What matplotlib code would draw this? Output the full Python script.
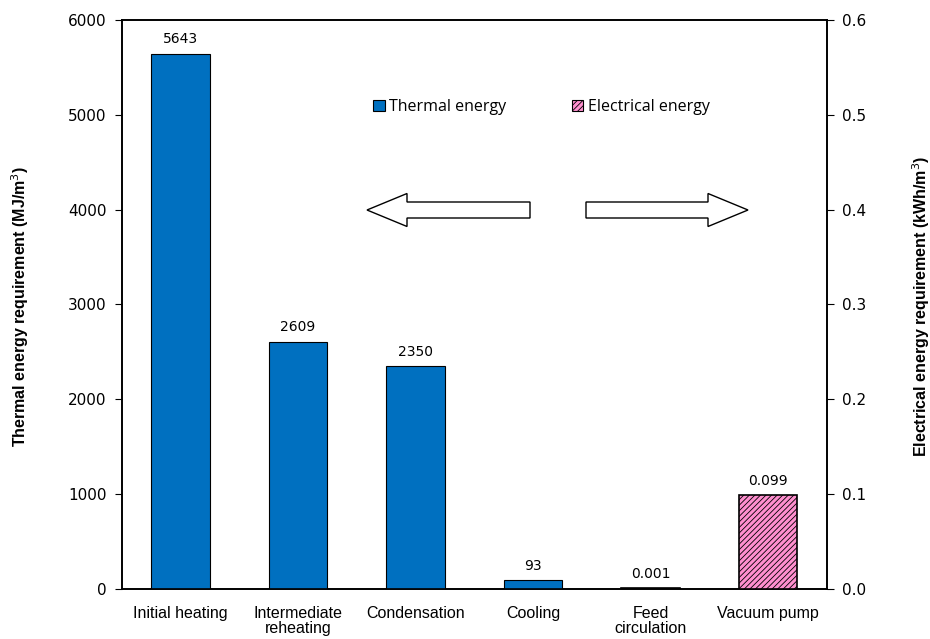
import numpy as np
import matplotlib
matplotlib.use("Agg")
import matplotlib.pyplot as plt
from matplotlib.patches import FancyArrow, Patch

categories = ["Initial heating", "Intermediate\nreheating", "Condensation",
              "Cooling", "Feed\ncirculation", "Vacuum pump"]
thermal = [5643, 2609, 2350, 93]          # MJ/m3, first four stages
electrical = [0.001, 0.099]               # kWh/m3, last two stages
thermal_labels = ["5643", "2609", "2350", "93"]
electrical_labels = ["0.001", "0.099"]

blue = "#0070c0"
pink = "#ff8fcf"

plt.rcParams["hatch.linewidth"] = 0.6

fig = plt.figure(figsize=(9.3, 6.39), dpi=100)
ax = fig.add_axes([0.131, 0.078, 0.758, 0.891])
ax2 = ax.twinx()

x = np.arange(len(categories))
xt = x[:len(thermal)]
xe = x[len(thermal):]

ax.bar(xt, thermal, width=0.5, color=blue, edgecolor="black", linewidth=0.8, zorder=3)
ax2.bar(xe, electrical, width=0.5, color=pink, edgecolor="black", linewidth=1.2,
        hatch="//////", zorder=3)

for xi, v, s in zip(xt, thermal, thermal_labels):
    ax.text(xi, v + 80, s, ha="center", va="bottom", fontsize=10, family="DejaVu Sans")
for xi, v, s in zip(xe, electrical, electrical_labels):
    ax2.text(xi, v + 0.008, s, ha="center", va="bottom", fontsize=10, family="DejaVu Sans")

ax.set_xlim(-0.5, len(categories) - 0.5)
ax.set_ylim(0, 6000)
ax2.set_ylim(0, 0.6)
ax.set_yticks(np.arange(0, 6001, 1000))
ax2.set_yticks(np.arange(0, 0.61, 0.1))
ax2.set_yticklabels([f"{t:.1f}" for t in np.arange(0, 0.61, 0.1)])

ax.set_xticks(x)
ax.set_xticklabels(categories, fontsize=11.5, family="Liberation Sans", linespacing=1.05)
ax.tick_params(axis="x", length=0, pad=12)
ax.tick_params(axis="y", direction="out", length=5, width=0.8, labelsize=11, pad=6)
ax2.tick_params(axis="y", direction="out", length=5, width=0.8, labelsize=11, pad=6)
for lbl in ax.get_yticklabels() + ax2.get_yticklabels():
    lbl.set_family("DejaVu Sans")

for a in (ax, ax2):
    for sp in a.spines.values():
        sp.set_linewidth(1.2)

fig.text(0.022, 0.52, "Thermal energy requirement (MJ/m$^3$)", rotation=90,
         ha="center", va="center", fontsize=11.5, fontweight="bold", family="Liberation Sans")
fig.text(0.99, 0.52, "Electrical energy requirement (kWh/m$^3$)", rotation=90,
         ha="center", va="center", fontsize=11.5, fontweight="bold", family="Liberation Sans")

handles = [Patch(facecolor=blue, edgecolor="black", linewidth=0.8),
           Patch(facecolor=pink, edgecolor="black", linewidth=0.8, hatch="//////")]
fig.legend(handles, ["Thermal energy", "Electrical energy"], ncol=2, frameon=False,
           loc="center left", bbox_to_anchor=(0.386, 1 - 107 / 639),
           prop={"family": "Open Sans", "size": 11.5}, handlelength=0.7, handleheight=0.7,
           handletextpad=0.3, columnspacing=4.1)

# direction arrows pointing to each axis
W, H = 930.0, 639.0
for x0, dx in [(530, -163), (586, 162)]:
    fig.patches.append(FancyArrow(x0 / W, 1 - 210 / H, dx / W, 0, width=16 / H,
                                  head_width=33 / H, head_length=40 / W,
                                  length_includes_head=True, facecolor="white",
                                  edgecolor="black", linewidth=1.0,
                                  transform=fig.transFigure, figure=fig))

fig.savefig("out.png", dpi=100)
